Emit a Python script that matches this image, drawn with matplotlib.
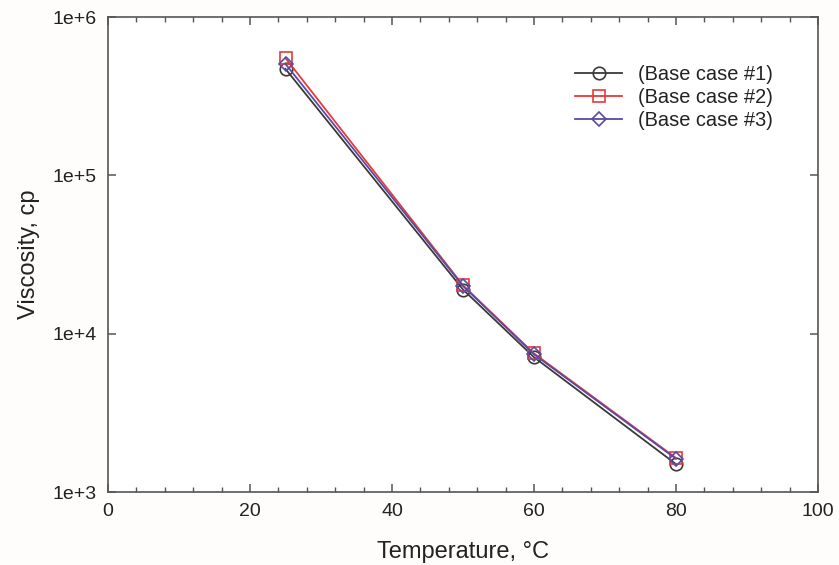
import matplotlib
matplotlib.use("Agg")
import matplotlib.pyplot as plt
from matplotlib.ticker import FixedLocator, MultipleLocator, NullLocator

plt.rcParams['font.family'] = ['Liberation Sans', 'DejaVu Sans']

temperature = [25, 50, 60, 80]
case1 = [4.7e5, 1.90e4, 7.1e3, 1.50e3]
case2 = [5.5e5, 2.02e4, 7.5e3, 1.64e3]
case3 = [5.05e5, 2.0e4, 7.4e3, 1.62e3]
series_labels = ['(Base case #1)', '(Base case #2)', '(Base case #3)']
y_ticks = [1e3, 1e4, 1e5, 1e6]
y_tick_labels = ['1e+3', '1e+4', '1e+5', '1e+6']
x_ticks = [0, 20, 40, 60, 80, 100]

fig = plt.figure(figsize=(8.39, 5.65), dpi=100)
ax = fig.add_axes([108/839, 1-492/565, (818-108)/839, (492-17)/565])

styles = [
    dict(color='#3a3a3a', marker='o', ms=9),
    dict(color='#e8393a', marker='s', ms=8),
    dict(color='#5a4aa6', marker='D', ms=7.5),
]
for vals, lab, st in zip([case1, case2, case3], series_labels, styles):
    ax.plot(temperature, vals, color=st['color'], lw=1.3, marker=st['marker'],
            ms=st['ms'], mfc='none', mec=st['color'], mew=1.2, label=lab)

ax.set_yscale('log')
ax.set_xlim(0, 100)
ax.set_ylim(1e3, 1e6)
ax.xaxis.set_major_locator(FixedLocator(x_ticks))
ax.xaxis.set_minor_locator(MultipleLocator(4))
ax.yaxis.set_major_locator(FixedLocator(y_ticks))
ax.yaxis.set_minor_locator(NullLocator())
ax.set_yticklabels(y_tick_labels)
ax.set_xticklabels([str(v) for v in x_ticks])

axis_col = '#555555'
for s in ax.spines.values():
    s.set_color(axis_col)
    s.set_linewidth(1.2)
ax.tick_params(which='both', direction='in', top=True, right=True, color=axis_col,
               labelsize=14, labelcolor='#222222', pad=8)
ax.tick_params(which='major', length=6, width=1.1)
ax.tick_params(which='minor', length=3.5, width=1.0)

ax.set_xlabel('Temperature, °C', fontsize=17, color='#222222', labelpad=15)
ax.set_ylabel('Viscosity, cp', fontsize=17, color='#222222', labelpad=9)

ax.legend(loc='upper left', bbox_to_anchor=(0.658, 0.898), frameon=False,
          fontsize=14.4, handlelength=2.35, handletextpad=0.8, labelspacing=0.18,
          borderpad=0, borderaxespad=0, labelcolor='#222222')

fig.savefig('out.png', dpi=100, facecolor='#fffdfc')
